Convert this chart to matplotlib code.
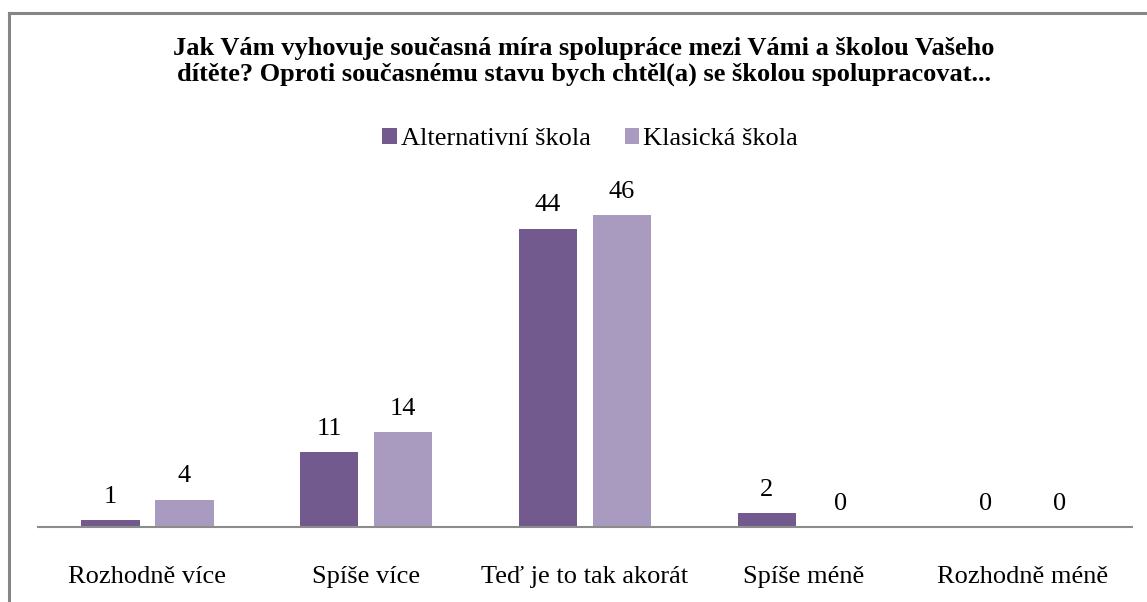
import matplotlib.pyplot as plt
from matplotlib.lines import Line2D
import numpy as np

# Data
categories = ["Rozhodně více", "Spíše více", "Teď je to tak akorát", "Spíše méně", "Rozhodně méně"]
alternativni = [1, 11, 44, 2, 0]
klasicka = [4, 14, 46, 0, 0]
series_names = ["Alternativní škola", "Klasická škola"]

title = ("Jak Vám vyhovuje současná míra spolupráce mezi Vámi a školou Vašeho\n"
         "dítěte? Oproti současnému stavu bych chtěl(a) se školou spolupracovat...")

color_alt = "#725a8f"
color_kla = "#a99bbf"

plt.rcParams["font.family"] = ["Liberation Serif", "DejaVu Serif"]

W, H = 1147, 602
fig = plt.figure(figsize=(W / 100, H / 100), dpi=100)

# axes: x from 38 to 1132 px, baseline at 527 px
y_top_val = 50
px_per_unit = 6.78
ax_bottom = 527
ax_height = y_top_val * px_per_unit
ax = fig.add_axes([38 / W, (H - ax_bottom) / H, (1132 - 38) / W, ax_height / H])

x = np.arange(len(categories))
bw = 0.267
off = 0.169
b1 = ax.bar(x - off, alternativni, bw, color=color_alt, label=series_names[0])
b2 = ax.bar(x + off, klasicka, bw, color=color_kla, label=series_names[1])

for bars in (b1, b2):
    for rect in bars:
        h = rect.get_height()
        ax.annotate(f"{int(h)}", (rect.get_x() + rect.get_width() / 2, h),
                    xytext=(0, 9), textcoords="offset points",
                    ha="center", va="bottom", fontsize=19)

ax.set_xlim(-0.5, len(categories) - 0.5)
ax.set_ylim(0, y_top_val)
ax.set_xticks(x)
ax.set_xticklabels(categories, fontsize=19)
ax.tick_params(axis="x", length=0, pad=28)
ax.set_yticks([])
for s in ("top", "right", "left"):
    ax.spines[s].set_visible(False)
ax.spines["bottom"].set_color("#8c8c8c")
ax.spines["bottom"].set_linewidth(1.5)

fig.text(584 / W, 1 - 37 / H, title, ha="center", va="top",
         fontsize=19, fontweight="bold", linespacing=1.12)

fig.legend(handles=[b1, b2], labels=series_names, loc="center",
           bbox_to_anchor=(590 / W, 1 - 139 / H), ncol=2, frameon=False,
           fontsize=19, handlelength=0.55, handleheight=0.55, handletextpad=0.15,
           columnspacing=1.3)

# chart frame (top and left edges visible)
fig.add_artist(Line2D([9 / W, 1], [1 - 12.5 / H, 1 - 12.5 / H], color="#868686", lw=2.2))
fig.add_artist(Line2D([9 / W, 9 / W], [0, 1 - 12.5 / H], color="#868686", lw=2.2))

fig.savefig("out.png", dpi=100)
